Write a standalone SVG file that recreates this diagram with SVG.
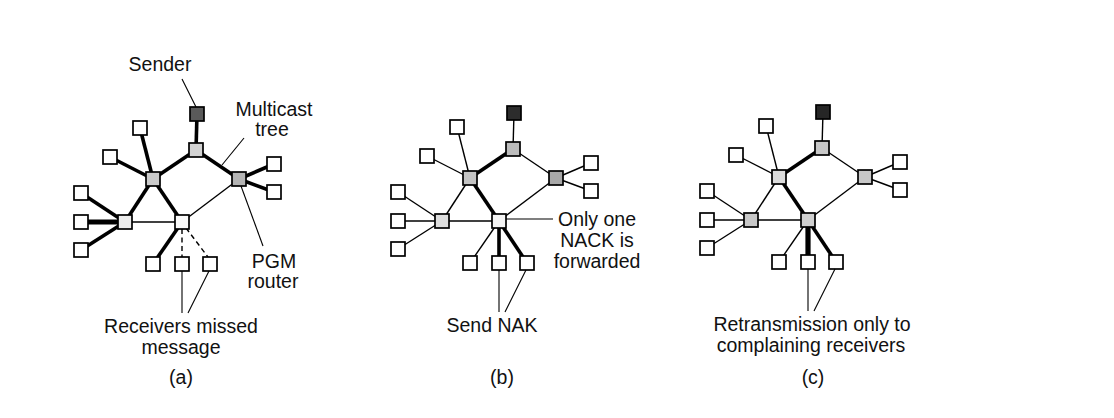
<svg xmlns="http://www.w3.org/2000/svg" width="1114" height="418" viewBox="0 0 1114 418">
<style>
  .bg{fill:#ffffff}
  .box{stroke:#000;stroke-width:1.7}
  .leaf{fill:#ffffff}
  .thin{stroke:#000;stroke-width:1.4;fill:none}
  .thick{stroke:#000;stroke-width:3.6;fill:none}
  .heavy{stroke:#000;stroke-width:5.2;fill:none}
  .dash{stroke:#000;stroke-width:1.4;stroke-dasharray:5,3.5;fill:none}
  .ptr{stroke:#000;stroke-width:1.1;fill:none}
  .lbl{font-family:"Liberation Sans",Arial,sans-serif;font-size:19.5px;fill:#111;text-anchor:middle}
</style>
<rect class="bg" x="0" y="0" width="1114" height="418"/>

<!-- Panel (a) -->
<g id="panel-a">
  <g id="a-connectors">
    <line class="thick" x1="197" y1="114" x2="196" y2="150"/>
    <line class="thick" x1="196" y1="150" x2="153" y2="179"/>
    <line class="thick" x1="196" y1="150" x2="239" y2="179"/>
    <line class="thick" x1="153" y1="179" x2="140" y2="128"/>
    <line class="thick" x1="153" y1="179" x2="110" y2="157"/>
    <line class="thick" x1="153" y1="179" x2="125" y2="222"/>
    <line class="thick" x1="153" y1="179" x2="182" y2="222"/>
    <line class="thick" x1="239" y1="179" x2="274" y2="164"/>
    <line class="thick" x1="239" y1="179" x2="274" y2="192"/>
    <line class="thick" x1="125" y1="222" x2="81" y2="193"/>
    <line class="heavy" x1="125" y1="222" x2="81" y2="222"/>
    <line class="thick" x1="125" y1="222" x2="81" y2="250"/>
    <line class="thin" x1="125" y1="222" x2="182" y2="222"/>
    <line class="thin" x1="182" y1="222" x2="239" y2="179"/>
    <line class="thick" x1="182" y1="222" x2="153" y2="264"/>
    <line class="dash" x1="182" y1="229" x2="182" y2="257"/>
    <line class="dash" x1="186" y1="228" x2="208" y2="257"/>
  </g>
  <g id="a-sender"><rect class="box" x="190" y="107" width="14" height="14" fill="#5a5a5a"/></g>
  <g id="a-r1"><rect class="box" x="189" y="143" width="14" height="14" fill="#d2d2d2"/></g>
  <g id="a-r2"><rect class="box" x="146" y="172" width="14" height="14" fill="#cacaca"/></g>
  <g id="a-r3"><rect class="box" x="232" y="172" width="14" height="14" fill="#b4b4b4"/></g>
  <g id="a-r4"><rect class="box" x="118" y="215" width="14" height="14" fill="#ececec"/></g>
  <g id="a-r5"><rect class="box" x="175" y="215" width="14" height="14" fill="#fafafa"/></g>
  <g id="a-l1"><rect class="box leaf" x="133" y="121" width="14" height="14"/></g>
  <g id="a-l2"><rect class="box leaf" x="103" y="150" width="14" height="14"/></g>
  <g id="a-l3"><rect class="box leaf" x="74" y="186" width="14" height="14"/></g>
  <g id="a-l4"><rect class="box leaf" x="74" y="215" width="14" height="14"/></g>
  <g id="a-l5"><rect class="box leaf" x="74" y="243" width="14" height="14"/></g>
  <g id="a-l6"><rect class="box leaf" x="267" y="157" width="14" height="14"/></g>
  <g id="a-l7"><rect class="box leaf" x="267" y="185" width="14" height="14"/></g>
  <g id="a-l8"><rect class="box leaf" x="146" y="257" width="14" height="14"/></g>
  <g id="a-l9"><rect class="box leaf" x="175" y="257" width="14" height="14"/></g>
  <g id="a-l10"><rect class="box leaf" x="203" y="257" width="14" height="14"/></g>
</g>

<!-- Panel (b) -->
<g id="panel-b" transform="translate(317,-1)">
  <g id="b-connectors">
    <line class="thin" x1="197" y1="114" x2="196" y2="150"/>
    <line class="thick" x1="196" y1="150" x2="153" y2="179"/>
    <line class="thin" x1="196" y1="150" x2="239" y2="179"/>
    <line class="thin" x1="153" y1="179" x2="140" y2="128"/>
    <line class="thin" x1="153" y1="179" x2="110" y2="157"/>
    <line class="thin" x1="153" y1="179" x2="125" y2="222"/>
    <line class="thick" x1="153" y1="179" x2="182" y2="222"/>
    <line class="thin" x1="239" y1="179" x2="274" y2="164"/>
    <line class="thin" x1="239" y1="179" x2="274" y2="192"/>
    <line class="thin" x1="125" y1="222" x2="81" y2="193"/>
    <line class="thin" x1="125" y1="222" x2="81" y2="222"/>
    <line class="thin" x1="125" y1="222" x2="81" y2="250"/>
    <line class="thin" x1="125" y1="222" x2="182" y2="222"/>
    <line class="thin" x1="182" y1="222" x2="239" y2="179"/>
    <line class="thin" x1="182" y1="222" x2="153" y2="264"/>
    <line class="thick" x1="182" y1="222" x2="182" y2="264"/>
    <line class="thick" x1="182" y1="222" x2="210" y2="264"/>
  </g>
  <g id="b-sender"><rect class="box" x="190" y="107" width="14" height="14" fill="#2c2c2c"/></g>
  <g id="b-r1"><rect class="box" x="189" y="143" width="14" height="14" fill="#bcbcbc"/></g>
  <g id="b-r2"><rect class="box" x="146" y="172" width="14" height="14" fill="#c4c4c4"/></g>
  <g id="b-r3"><rect class="box" x="232" y="172" width="14" height="14" fill="#a8a8a8"/></g>
  <g id="b-r4"><rect class="box" x="118" y="215" width="14" height="14" fill="#dedede"/></g>
  <g id="b-r5"><rect class="box" x="175" y="215" width="14" height="14" fill="#f4f4f4"/></g>
  <g id="b-l1"><rect class="box leaf" x="133" y="121" width="14" height="14"/></g>
  <g id="b-l2"><rect class="box leaf" x="103" y="150" width="14" height="14"/></g>
  <g id="b-l3"><rect class="box leaf" x="74" y="186" width="14" height="14"/></g>
  <g id="b-l4"><rect class="box leaf" x="74" y="215" width="14" height="14"/></g>
  <g id="b-l5"><rect class="box leaf" x="74" y="243" width="14" height="14"/></g>
  <g id="b-l6"><rect class="box leaf" x="267" y="157" width="14" height="14"/></g>
  <g id="b-l7"><rect class="box leaf" x="267" y="185" width="14" height="14"/></g>
  <g id="b-l8"><rect class="box leaf" x="146" y="257" width="14" height="14"/></g>
  <g id="b-l9"><rect class="box leaf" x="175" y="257" width="14" height="14"/></g>
  <g id="b-l10"><rect class="box leaf" x="203" y="257" width="14" height="14"/></g>
</g>

<!-- Panel (c) -->
<g id="panel-c" transform="translate(626,-2)">
  <g id="c-connectors">
    <line class="thin" x1="197" y1="114" x2="196" y2="150"/>
    <line class="thick" x1="196" y1="150" x2="153" y2="179"/>
    <line class="thin" x1="196" y1="150" x2="239" y2="179"/>
    <line class="thin" x1="153" y1="179" x2="140" y2="128"/>
    <line class="thin" x1="153" y1="179" x2="110" y2="157"/>
    <line class="thin" x1="153" y1="179" x2="125" y2="222"/>
    <line class="thick" x1="153" y1="179" x2="182" y2="222"/>
    <line class="thin" x1="239" y1="179" x2="274" y2="164"/>
    <line class="thin" x1="239" y1="179" x2="274" y2="192"/>
    <line class="thin" x1="125" y1="222" x2="81" y2="193"/>
    <line class="thin" x1="125" y1="222" x2="81" y2="222"/>
    <line class="thin" x1="125" y1="222" x2="81" y2="250"/>
    <line class="thin" x1="125" y1="222" x2="182" y2="222"/>
    <line class="thin" x1="182" y1="222" x2="239" y2="179"/>
    <line class="thin" x1="182" y1="222" x2="153" y2="264"/>
    <line class="heavy" x1="182" y1="222" x2="182" y2="264"/>
    <line class="thick" x1="182" y1="222" x2="210" y2="264"/>
  </g>
  <g id="c-sender"><rect class="box" x="190" y="107" width="14" height="14" fill="#262626"/></g>
  <g id="c-r1"><rect class="box" x="189" y="143" width="14" height="14" fill="#c8c8c8"/></g>
  <g id="c-r2"><rect class="box" x="146" y="172" width="14" height="14" fill="#dcdcdc"/></g>
  <g id="c-r3"><rect class="box" x="232" y="172" width="14" height="14" fill="#c8c8c8"/></g>
  <g id="c-r4"><rect class="box" x="118" y="215" width="14" height="14" fill="#c8c8c8"/></g>
  <g id="c-r5"><rect class="box" x="175" y="215" width="14" height="14" fill="#d0d0d0"/></g>
  <g id="c-l1"><rect class="box leaf" x="133" y="121" width="14" height="14"/></g>
  <g id="c-l2"><rect class="box leaf" x="103" y="150" width="14" height="14"/></g>
  <g id="c-l3"><rect class="box leaf" x="74" y="186" width="14" height="14"/></g>
  <g id="c-l4"><rect class="box leaf" x="74" y="215" width="14" height="14"/></g>
  <g id="c-l5"><rect class="box leaf" x="74" y="243" width="14" height="14"/></g>
  <g id="c-l6"><rect class="box leaf" x="267" y="157" width="14" height="14"/></g>
  <g id="c-l7"><rect class="box leaf" x="267" y="185" width="14" height="14"/></g>
  <g id="c-l8"><rect class="box leaf" x="146" y="257" width="14" height="14"/></g>
  <g id="c-l9"><rect class="box leaf" x="175" y="257" width="14" height="14"/></g>
  <g id="c-l10"><rect class="box leaf" x="203" y="257" width="14" height="14"/></g>
</g>

<!-- Label pointer lines -->
<g id="label-connectors">
  <line class="ptr" x1="182" y1="79" x2="196" y2="107"/>
  <line class="ptr" x1="244" y1="138" x2="222" y2="165"/>
  <line class="ptr" x1="241" y1="186" x2="263" y2="246"/>
  <line class="ptr" x1="182" y1="271" x2="182" y2="313"/>
  <line class="ptr" x1="209" y1="271" x2="188" y2="313"/>
  <line class="ptr" x1="506" y1="219" x2="553" y2="219"/>
  <line class="ptr" x1="499" y1="270" x2="499" y2="312"/>
  <line class="ptr" x1="526" y1="270" x2="505" y2="312"/>
  <line class="ptr" x1="808" y1="269" x2="808" y2="311"/>
  <line class="ptr" x1="835" y1="269" x2="814" y2="311"/>
</g>

<!-- Labels -->
<g id="labels">
  <text class="lbl" x="160" y="71">Sender</text>
  <text class="lbl" x="274" y="116">Multicast</text>
  <text class="lbl" x="272" y="136">tree</text>
  <text class="lbl" x="274" y="268">PGM</text>
  <text class="lbl" x="273" y="288">router</text>
  <text class="lbl" x="181" y="333">Receivers missed</text>
  <text class="lbl" x="181" y="354">message</text>
  <text class="lbl" x="181" y="384">(a)</text>

  <text class="lbl" x="597" y="226">Only one</text>
  <text class="lbl" x="597" y="247">NACK is</text>
  <text class="lbl" x="597" y="268">forwarded</text>
  <text class="lbl" x="492" y="332">Send NAK</text>
  <text class="lbl" x="502" y="384">(b)</text>

  <text class="lbl" x="812" y="331">Retransmission only to</text>
  <text class="lbl" x="811" y="352">complaining receivers</text>
  <text class="lbl" x="813" y="384">(c)</text>
</g>
</svg>
